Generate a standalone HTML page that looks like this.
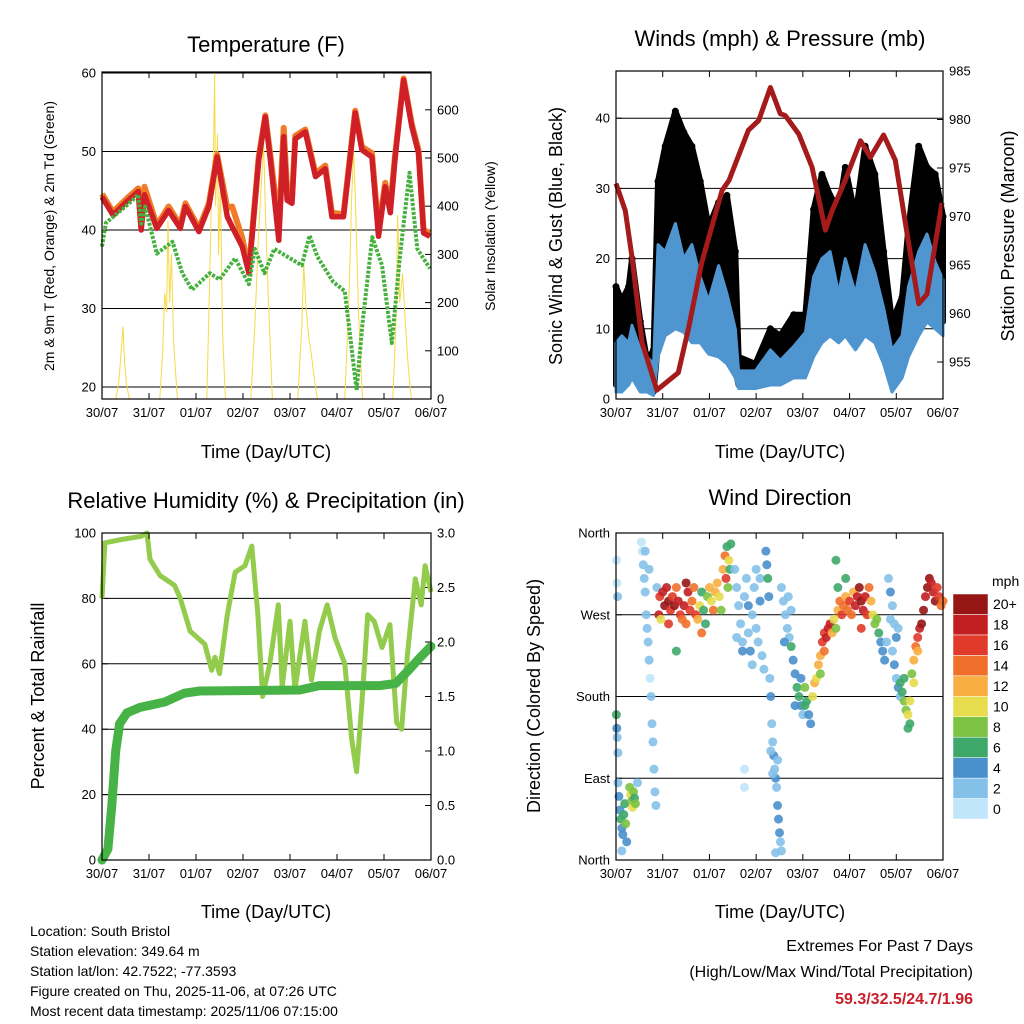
<!DOCTYPE html>
<html><head><meta charset="utf-8"><style>
html,body{margin:0;padding:0;background:#fff;}
svg{display:block;font-family:"Liberation Sans",sans-serif;}
</style></head><body>
<svg id="c" width="1024" height="1024" viewBox="0 0 1024 1024" xmlns="http://www.w3.org/2000/svg">
<g id="g"></g>
<text x="266" y="52" font-size="22" text-anchor="middle">Temperature (F)</text>
<text x="780" y="46" font-size="22" text-anchor="middle">Winds (mph) &amp; Pressure (mb)</text>
<text x="266" y="508" font-size="22" text-anchor="middle">Relative Humidity (%) &amp; Precipitation (in)</text>
<text x="780" y="505" font-size="22" text-anchor="middle">Wind Direction</text>
<text x="266" y="458" font-size="18" text-anchor="middle">Time (Day/UTC)</text>
<text x="780" y="458" font-size="18" text-anchor="middle">Time (Day/UTC)</text>
<text x="266" y="918" font-size="18" text-anchor="middle">Time (Day/UTC)</text>
<text x="780" y="918" font-size="18" text-anchor="middle">Time (Day/UTC)</text>
<text transform="translate(54,236) rotate(-90)" font-size="14" text-anchor="middle">2m &amp; 9m T (Red, Orange) &amp; 2m Td (Green)</text>
<text transform="translate(495,236) rotate(-90)" font-size="14" text-anchor="middle">Solar Insolation (Yellow)</text>
<text transform="translate(562,236) rotate(-90)" font-size="18" text-anchor="middle">Sonic Wind &amp; Gust (Blue, Black)</text>
<text transform="translate(1014,236) rotate(-90)" font-size="18" text-anchor="middle">Station Pressure (Maroon)</text>
<text transform="translate(44,696) rotate(-90)" font-size="18" text-anchor="middle">Percent &amp; Total Rainfall</text>
<text transform="translate(540,696) rotate(-90)" font-size="18" text-anchor="middle">Direction (Colored By Speed)</text>
<text x="992" y="586" font-size="14">mph</text>
<g font-size="14">
<text x="30" y="936">Location: South Bristol</text>
<text x="30" y="956">Station elevation: 349.64 m</text>
<text x="30" y="976">Station lat/lon: 42.7522; -77.3593</text>
<text x="30" y="996">Figure created on Thu, 2025-11-06, at 07:26 UTC</text>
<text x="30" y="1016">Most recent data timestamp: 2025/11/06 07:15:00</text>
</g>
<text x="973" y="951" font-size="16" text-anchor="end">Extremes For Past 7 Days</text>
<text x="973" y="977" font-size="16" text-anchor="end">(High/Low/Max Wind/Total Precipitation)</text>
<text x="973" y="1004" font-size="16" font-weight="bold" fill="#c8202a" text-anchor="end">59.3/32.5/24.7/1.96</text>
</svg>
<script>
const dayLabels=["30/07","31/07","01/07","02/07","03/07","04/07","05/07","06/07"];
// Temperature
const tHr=[0,5.6,12.6,18.5,20,21.7,28,34,40,42.6,49.5,54.6,58.8,64,66.5,71.6,75,80,83.4,86,90.3,92.8,94.5,97,98.7,103.8,109,114,117.4,123.3,129.3,132.7,137.8,141.2,144.6,147.2,149.7,154,158.2,161.6,164.2,167.5];
const tRed=[44.2,41.9,43.6,44.9,40,44.5,40.2,42.5,40.2,43,39.8,43,49.3,41.7,40.4,37.9,34.5,48.9,54.4,48.9,38.7,51.9,43.8,43.4,51.6,52.5,46.8,47.8,41.7,41.7,54.9,50.2,49.3,39.2,45.5,42.2,49.3,59.1,53.2,49.8,39.6,39.2];
const tOrange=[44.6,42.3,44,45.3,40.5,45.5,40.6,43,40.6,43.4,40.2,43.4,49.6,42.8,43,39,35,49.3,54.6,49.5,40.5,53,45,44,52,52.8,47.2,48.2,42.2,42,55.2,50.6,49.8,40,46,43,49.7,59.3,53.5,50.2,40,39.6];
const tdHr=[0,2,12,18.5,20,22,28,36,41,46,55,60,68,75,78,83,88,96,102,106,110,118,124,130,133,138,143,148,152,157,161,167.5];
const tdVal=[37.9,40.9,43,44.5,40.8,43,37,38.5,34.5,32.4,34.5,33.7,36.4,33.1,37.6,34.5,37.6,36.4,35.5,39.3,36.6,33.4,32.2,19.6,28.1,39.1,35.5,25.6,36.4,47.3,37.6,35.1];
const solHr=[0,7,8.5,10,10.7,11.5,12.5,14,29.5,31,32,33,33.7,34.5,35.5,36.5,38.5,53.5,55,56,57,57.5,58,59,59.5,60.5,61.5,63,76,78,80,81,82.5,83.5,85,87,100,102,103,104,105.5,107,108.5,110,124,126,127.5,128.5,129.5,131,133,148.5,150,151,152,153.5,155,156.5,158,168];
const solVal=[0,0,30,110,150,80,30,0,0,100,220,180,370,200,300,120,0,0,250,450,520,676,400,550,300,450,150,0,0,150,350,420,531,380,200,0,0,150,282,200,130,90,40,0,0,200,420,517,400,180,0,0,150,382,200,260,150,60,0,0];
// Winds
const pHr=[0,4.8,8.2,13.4,21,32,37.4,44,54.5,58,68,73.3,79.3,84.4,87,93.9,100.7,107.6,111,117.7,125.6,130.7,137.5,143.5,150.4,155.5,159.8,167.5];
const pVal=[973.4,970.6,965.8,957,952.1,953.9,958.6,965.2,972.7,973.7,978.9,979.9,983.3,980.6,980.4,978.5,975.1,968.6,970.6,973.7,977.8,976.1,978.4,975.8,967.2,961,962,971.4];
const wHr=[0,3,6.5,8.2,12.5,16,19.3,21.6,25.3,30.5,34.8,39,43.3,47.6,52.7,57,61.3,63,71.6,79.3,84.4,91.3,97.3,101.5,105.8,110,114.4,117.8,123,128,133,137.5,141.8,147,150.3,155.5,159.8,164,168];
const windHi=[8,9,8,10.5,7,6,5,22,21,25,20,22,17.4,14,19,15,10,4,4,7,5.5,7.5,9.5,17.4,20,21,15,20,15,22,18,13,7,9,16,21,23.5,19.5,17];
const windLo=[1,1,2,3,1,1,0.5,6,9,10,9.5,8,8,6.4,6,5,3,1.5,1.5,2,2,3,3,6,8,9,8,9,7,9,8,5,1,3,6,9,11,10,9];
const gustHi=[16,14,16,20,11,5.5,7,31,36,41,38,36,31,24.5,28,29,21,6,5,10,9,12,12,27,32,29,27,33,26,36,32,21,11,14.5,24.5,36,33,32,26];
const gustLo=[2,2,3,4,2,1.5,1,8,11,12,11,10,9,7,8,7,4,2,2,3,3,4,4,8,10,11,10,11,9,11,10,7,2,4,8,11,13,12,11];
// Humidity & precip
const rhHr=[0,1.5,10,20,23,24.5,29.6,37,40,45,52.5,56,57.7,60,64,68,73,76.5,79.6,82,85.7,90,92,96,98.5,103.6,107,111,115,119,124,127.5,130,132.7,135.7,139,143,147,150.5,153,156,160,163,165,168];
const rhVal=[80,97,98,99,100,92,87,84,80,70,66,58,62,57,75,88,90,96,75,50,60,78,53,73,52,73,55,70,78,68,60,37,27,48,75,73,65,72,42,40,63,86,78,90,82];
const prHr=[0,3,5,7,9,12.7,19.4,32,42,50,101,111,142,150,157,162,168];
const prVal=[0,0.1,0.5,1.0,1.25,1.35,1.4,1.45,1.53,1.55,1.56,1.6,1.6,1.62,1.75,1.85,1.96];
// Wind direction
const dirHr=[0.3,0.5,0.8,0.2,0.4,0.6,1,1,1.5,2,2.5,3,3.5,4,4.5,5,5.5,3,7,7.5,8,8.5,9,9.5,10,11,13,13.5,14,14.5,15,15.5,16,16.5,17,17.5,18,18.5,19,19.5,20,20.5,21,15,17,
22,22.5,24,25,26,27,28,29,30,31,32,33,34,35,36,37,38,39,40,41,42,43,44,45,46,47,48,49,50,51,52,53,54,23,27,31,36,44,
55,56,57,58,56.5,57.5,58.5,59,61,62,63,64,65,66,67,68,69,70,71,72,73,74,75,76,62,65,68,70,72,74,66,66,
77,77.5,78,78.5,79,79.5,80,80.5,81,81.5,82,82.5,83,83.5,84,84.5,85,82,79.5,80.5,83,85,86,87,88,89,86.5,88.5,90,
90,91,92,93,94,95,96,97,98,99,100,95,97,92,101,102,103,104,105,106,107,108,109,110,111,112,113,105,107,
114,115,116,117,118,119,120,121,122,123,124,125,126,127,128,129,130,131,132,133,134,113,114,118,126,
135,136,137,138,139,140,141,142,143,144,142,143,144,145,146,141,145,146,147,148,149,150,151,150,148,151,
152,153,154,155,156,157,155,153,158,159,160,161,162,163,164,165,166,167,168];
const dirDeg=[330,305,290,160,145,135,118,85,70,55,45,35,28,50,62,40,20,10,80,72,65,58,75,68,62,85,350,340,325,310,295,270,255,240,220,200,180,150,130,100,75,60,300,340,320,
270,290,295,280,300,285,275,290,280,300,285,270,265,280,305,295,275,285,300,270,265,280,295,275,260,290,300,285,275,295,305,290,275,265,260,230,260,250,
320,335,345,330,310,300,320,348,320,300,280,260,240,290,310,250,230,270,300,255,240,285,225,210,245,230,280,215,320,310,80,100,
340,325,310,290,200,180,150,130,115,100,90,80,60,45,30,20,10,8,120,95,110,300,285,270,255,245,240,290,275,
235,220,205,190,180,170,160,170,175,160,150,200,190,170,180,195,200,215,225,240,250,245,255,260,250,265,255,205,230,
275,285,270,280,290,275,285,270,295,280,290,300,285,275,290,270,300,285,270,260,265,330,300,310,255,
250,240,230,220,240,310,295,280,260,245,230,215,200,190,180,265,255,195,185,175,165,160,150,145,200,175,
205,220,235,245,255,260,230,195,275,290,300,310,305,295,285,300,290,280,285];
const dirSpd=[1,1,2,6,5,3,2,3,4,5,6,5,4,7,6,8,4,2,8,10,9,10,8,7,9,3,1,1,2,3,2,2,3,2,3,1,2,2,3,3,2,3,3,3,2,
18,16,19,20,18,20,16,17,20,14,19,16,14,18,20,19,17,14,15,17,13,10,6,6,7,8,12,11,14,13,12,10,9,10,16,6,14,15,
12,14,6,10,16,9,7,6,3,2,3,2,3,2,3,2,4,3,2,3,2,4,2,2,3,4,4,3,3,2,1,1,
4,5,6,4,3,4,3,3,4,3,5,3,4,4,5,3,3,2,2,3,2,2,3,2,3,2,4,3,2,
6,5,4,6,7,4,3,6,7,5,4,5,8,4,11,12,10,13,12,16,17,18,19,18,12,10,8,9,14,
12,14,16,14,13,15,17,14,12,18,19,20,20,19,18,16,14,12,10,8,8,6,6,7,17,
6,5,5,4,3,3,4,2,3,4,3,4,3,4,3,2,2,6,7,8,9,10,7,6,6,10,
8,12,14,16,18,20,13,10,20,18,20,20,19,18,20,17,16,15,14];
const spdColors=["#bfe6fa","#84c1e8","#4a90cc","#3ea86a","#7cc243","#e6dc4e","#f8ae42","#f0702b","#e03a2a","#c21f22","#961616"];
const spdLabels=["0","2","4","6","8","10","12","14","16","18","20+"];

const NS="http://www.w3.org/2000/svg";
const G=document.getElementById('g');
function mk(tag,attrs,parent){const e=document.createElementNS(NS,tag);for(const k in attrs)e.setAttribute(k,attrs[k]);(parent||G).appendChild(e);return e;}
function lin(d0,d1,r0,r1){return v=>r0+(v-d0)/(d1-d0)*(r1-r0);}
function pathOf(xs,ys,fx,fy){return xs.map((x,i)=>(i?'L':'M')+fx(x).toFixed(1)+','+fy(ys[i]).toFixed(1)).join('');}

function frame(b,name){
  const f=mk('rect',{x:b.x0,y:b.y0,width:b.x1-b.x0,height:b.y1-b.y0,fill:'none',stroke:'#000','stroke-width':1.2});
  
  
  const sx=lin(0,168,b.x0,b.x1);
  dayLabels.forEach((l,i)=>{
    const x=sx(i*24);
    mk('line',{x1:x,x2:x,y1:b.y1,y2:b.y1-6,stroke:'#000'});
    mk('line',{x1:x,x2:x,y1:b.y0,y2:b.y0+6,stroke:'#000'});
    const t=mk('text',{x:x,y:b.y1+18,'font-size':13,'text-anchor':'middle'});
    t.textContent=l;
    
    
  });
}
function yTicks(b,vals,labels,fy,side,grid,name){
  vals.forEach((v,i)=>{
    const y=fy(v);
    if(grid) mk('line',{x1:b.x0,x2:b.x1,y1:y,y2:y,stroke:'#000','stroke-width':1});
    const x=side==='l'?b.x0:b.x1;
    mk('line',{x1:x,x2:side==='l'?x+6:x-6,y1:y,y2:y,stroke:'#000'});
    const t=mk('text',{x:side==='l'?b.x0-6:b.x1+6,y:y+4.5,'font-size':13,'text-anchor':side==='l'?'end':'start'});
    t.textContent=labels[i];
    
    
  });
}

// Panel 1: temperature
(function(){
  const b={x0:102,x1:431,y0:72,y1:399};
  const sx=lin(0,168,b.x0,b.x1), sy=lin(20,60,387,73), ss=lin(0,100,399,350.8);
  yTicks(b,[20,30,40,50,60],["20","30","40","50","60"],sy,'l',true,'temp-y');
  yTicks(b,[0,100,200,300,400,500,600],["0","100","200","300","400","500","600"],ss,'r',false,'solar-y');
  const sol=mk('path',{d:pathOf(solHr,solVal.map(v=>Math.min(v,676)),sx,ss),fill:'none',stroke:'#f6da45','stroke-width':1});
  
  
  const o=mk('path',{d:pathOf(tHr,tOrange,sx,sy),fill:'none',stroke:'#f07c2a','stroke-width':6,'stroke-linejoin':'round'});
  
  
  const r=mk('path',{d:pathOf(tHr,tRed,sx,sy),fill:'none',stroke:'#d02027','stroke-width':5.5,'stroke-linejoin':'round'});
  
  
  const g=mk('path',{d:pathOf(tdHr,tdVal,sx,sy),fill:'none',stroke:'#46b03f','stroke-width':4,'stroke-dasharray':'3 1.5','stroke-linejoin':'round'});
  
  
  frame(b,'temp');
})();

// Panel 2: winds
(function(){
  const b={x0:616,x1:943,y0:71,y1:399};
  const sx=lin(0,168,b.x0,b.x1), sy=lin(0,10,399,328.8), sp=lin(955,985,362,71);
  yTicks(b,[0,10,20,30,40],["0","10","20","30","40"],sy,'l',true,'wind-y');
  yTicks(b,[955,960,965,970,975,980,985],["955","960","965","970","975","980","985"],sp,'r',false,'pressure-y');
  const poly=(hr,hi,lo)=>pathOf(hr.concat(hr.slice().reverse()),hi.concat(lo.slice().reverse()),sx,sy)+'Z';
  const gu=mk('path',{d:poly(wHr,gustHi,gustLo),fill:'#000',stroke:'#000','stroke-width':6,'stroke-linejoin':'round'});
  
  
  wHr.forEach((h,i)=>{
    const c=mk('circle',{cx:sx(h),cy:sy(gustHi[i]),r:3.5,fill:'#000'});
    
    
  });
  const wi=mk('path',{d:poly(wHr,windHi,windLo),fill:'#4f95d0',stroke:'#4f95d0','stroke-width':3,'stroke-linejoin':'round'});
  
  
  const pr=mk('path',{d:pathOf(pHr,pVal,sx,sp),fill:'none',stroke:'#a51b1b','stroke-width':5,'stroke-linejoin':'round'});
  
  
  frame(b,'wind');
})();

// Panel 3: humidity
(function(){
  const b={x0:102,x1:431,y0:533,y1:860};
  const sx=lin(0,168,b.x0,b.x1), sy=lin(0,100,860,533), sr=lin(0,3,860,533);
  yTicks(b,[0,20,40,60,80,100],["0","20","40","60","80","100"],sy,'l',true,'rh-y');
  yTicks(b,[0,0.5,1,1.5,2,2.5,3],["0.0","0.5","1.0","1.5","2.0","2.5","3.0"],sr,'r',false,'precip-y');
  const rh=mk('path',{d:pathOf(rhHr,rhVal,sx,sy),fill:'none',stroke:'#93cb4c','stroke-width':5,'stroke-linejoin':'round'});
  
  
  const pr=mk('path',{d:pathOf(prHr,prVal,sx,sr),fill:'none',stroke:'#47b347','stroke-width':9,'stroke-linejoin':'round','stroke-linecap':'round'});
  
  
  frame(b,'rh');
})();

// Panel 4: wind direction
(function(){
  const b={x0:616,x1:943,y0:533,y1:860};
  const sx=lin(0,168,b.x0,b.x1), sy=lin(0,360,860,533);
  yTicks(b,[0,90,180,270,360],["North","East","South","West","North"],sy,'l',false,'dir-y');
  [90,180,270].forEach(v=>mk('line',{x1:b.x0,x2:b.x1,y1:sy(v),y2:sy(v),stroke:'#000'}));
  dirHr.forEach((h,i)=>{
    const c=mk('circle',{cx:sx(h),cy:sy(dirDeg[i]),r:4.5,fill:spdColors[Math.min(10,Math.floor(dirSpd[i]/2))],'fill-opacity':0.9});
    
    
  });
  frame(b,'dir');
  const h=(819-594)/11;
  spdColors.forEach((col,i)=>{
    const y=819-(i+1)*h;
    const r=mk('rect',{x:953,y:y,width:35,height:h,fill:col,stroke:'#fff','stroke-width':0.5});
    
    
    const t=mk('text',{x:993,y:y+h/2+5,'font-size':14});
    t.textContent=spdLabels[i];
    
    
  });
})();
</script>
</body></html>
